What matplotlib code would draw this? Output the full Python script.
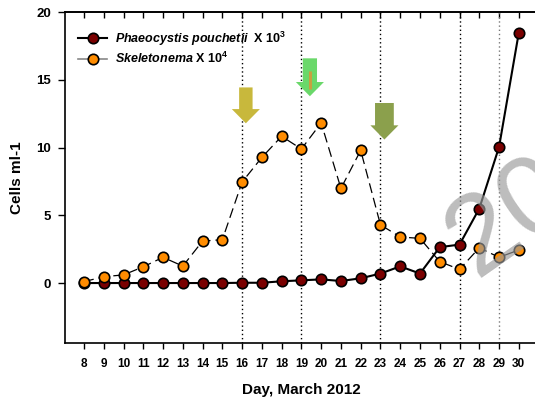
import numpy as np
import matplotlib
matplotlib.use("Agg")
import matplotlib.pyplot as plt
from matplotlib.lines import Line2D
from matplotlib.patches import FancyArrow

plt.rcParams['font.family'] = ['Liberation Sans', 'DejaVu Sans']
plt.rcParams['mathtext.fontset'] = 'custom'
plt.rcParams['mathtext.rm'] = 'Liberation Sans:bold'
plt.rcParams['mathtext.it'] = 'Liberation Sans:italic'
plt.rcParams['mathtext.bf'] = 'Liberation Sans:bold'
plt.rcParams['mathtext.bfit'] = 'Liberation Sans:italic:bold'

# Data
days = [8, 9, 10, 11, 12, 13, 14, 15, 16, 17, 18, 19, 20, 21, 22, 23, 24, 25, 26, 27, 28, 29, 30]
phaeo = [0, 0, 0, 0, 0, 0, 0, 0, 0.02, 0.02, 0.13, 0.2, 0.27, 0.15, 0.35,
         0.7, 1.23, 0.7, 2.65, 2.84, 5.5, 10.05, 18.5]
skel = [0.1, 0.47, 0.6, 1.2, 1.9, 1.25, 3.1, 3.2, 7.46, 9.28, 10.84, 9.9, 11.83,
        6.99, 9.8, 4.3, 3.4, 3.3, 1.58, 1.01, 2.6, 1.9, 2.44]
event_days = [16, 19, 23, 27]
event_day_gray = 29
arrow_days = [16.19, 19.43, 23.2]
arrow_colors = ['#C8B83C', '#6AD86A', '#8BA04C']

fig = plt.figure(figsize=(5.35, 4.01), dpi=100)
ax = fig.add_axes([65/535, 58/401, 472/535, 330.7/401])

# vertical dotted event lines
for d in event_days:
    ax.axvline(d, color='black', lw=1.0, ls=(0, (1, 2)), zorder=1)
ax.axvline(event_day_gray, color='#777777', lw=1.0, ls=(0, (1, 2)), zorder=1)

# data series
ax.plot(days, phaeo, color='black', lw=1.5, marker='o', ms=7.5,
        mfc='#7A0000', mec='black', mew=1.2, zorder=3)
ax.plot(days, skel, color='black', lw=0.9, dashes=(8, 4), marker='o', ms=7.5,
        mfc='#FF8C00', mec='black', mew=1.2, zorder=4)

# arrows (top of shaft y, tip y, shaft width)
arrow_specs = [(14.45, 11.8, 0.68), (16.6, 13.8, 0.72), (13.3, 10.6, 0.95)]
for d, c, (top, tip, w) in zip(arrow_days, arrow_colors, arrow_specs):
    ar = FancyArrow(d, top, 0, tip - top, width=w, head_width=1.42,
                    head_length=1.05, length_includes_head=True,
                    color=c, ec='none', zorder=5)
    ax.add_patch(ar)
# small orange stripe in the green arrow
ax.plot([19.43, 19.43], [15.7, 14.3], color='#C8A040', lw=2.2, zorder=6,
        solid_capstyle='butt')

# watermark
ax.text(27.8, 0.35, '20', fontsize=82, color='#999999', alpha=0.65,
        rotation=35, rotation_mode='anchor', ha='left', va='baseline',
        family='Liberation Sans', fontweight='normal', zorder=10, clip_on=False)

ax.set_xlim(7.04, 30.92)
ax.set_ylim(-4.43, 20)
ax.set_xticks(days)
ax.set_xticklabels([str(d) for d in days], fontsize=8.5, fontweight='bold')
ax.set_yticks([0, 5, 10, 15, 20])
ax.set_yticklabels(['0', '5', '10', '15', '20'], fontsize=9.5, fontweight='bold')
ax.tick_params(axis='x', direction='out', length=4, width=1, pad=7)
ax.tick_params(axis='y', direction='out', length=5, width=1, pad=5)
ax.spines['right'].set_visible(False)
for s in ax.spines.values():
    s.set_linewidth(1.2)

top = ax.secondary_xaxis('top')
top.set_xticks(days)
top.tick_params(direction='in', length=4, width=1, labeltop=False)
top.spines['top'].set_linewidth(1.2)

ax.set_xlabel('Day, March 2012', fontsize=11, fontweight='bold', labelpad=9.5)
ax.set_ylabel('Cells ml-1', fontsize=11, fontweight='bold', labelpad=9)

handles = [
    Line2D([], [], color='black', lw=1.5, marker='o', ms=7.5, mfc='#7A0000',
           mec='black', mew=1.2),
    Line2D([], [], color='#888888', lw=1.2, marker='o', ms=7.5, mfc='#FF8C00',
           mec='black', mew=1.2),
]
labels = [r'$\mathbfit{Phaeocystis\ pouchetii}$  X 10$^{3}$',
          r'$\mathbfit{Skeletonema}$ X 10$^{4}$']
ax.legend(handles, labels, loc='upper left', bbox_to_anchor=(0.017, 0.963),
          borderaxespad=0, frameon=False, prop={'size': 9, 'weight': 'bold'},
          handlelength=2.33, handletextpad=0.64, labelspacing=0.25)

fig.savefig('out.png', dpi=100)
